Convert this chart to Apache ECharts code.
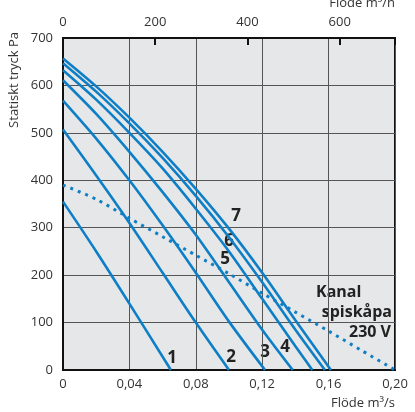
<!DOCTYPE html>
<html>
<head>
<meta charset="utf-8">
<script src="https://cdn.jsdelivr.net/npm/echarts@6/dist/echarts.min.js"></script>
<style>
  html, body { margin: 0; padding: 0; background: #ffffff; }
  #chart { width: 415px; height: 412px; }
</style>
</head>
<body>
<div id="chart"></div>
<script>
// Fan curves, speed steps 1–7: [flow m³/s, static pressure Pa]
const curve1 = [[0, 355], [0.02, 250], [0.04, 140], [0.065, 0]];
const curve2 = [[0, 507], [0.02, 410], [0.04, 310], [0.06, 205], [0.08, 100], [0.1, 0]];
const curve3 = [[0, 568], [0.02, 488], [0.04, 400], [0.06, 305], [0.08, 205], [0.1, 102], [0.1217, 0]];
const curve4 = [[0, 611], [0.02, 540], [0.04, 460], [0.06, 375], [0.08, 285], [0.1, 185], [0.12, 85], [0.1384, 0]];
const curve5 = [[0, 632], [0.02, 570], [0.04, 500], [0.06, 425], [0.08, 340], [0.1, 250], [0.12, 150], [0.14, 50], [0.1502, 0]];
const curve6 = [[0, 647], [0.02, 587], [0.04, 520], [0.06, 447], [0.08, 367], [0.1, 280], [0.12, 185], [0.14, 85], [0.1578, 0]];
const curve7 = [[0, 657], [0.02, 598], [0.04, 532], [0.06, 460], [0.08, 382], [0.1, 298], [0.12, 205], [0.14, 105], [0.1614, 0]];
// Duct / kitchen hood system curve (dotted)
const systemCurve = [[0, 390], [0.02, 360], [0.04, 320], [0.06, 281], [0.08, 242], [0.1, 203], [0.12, 162], [0.14, 122], [0.16, 82], [0.18, 41], [0.2, 0]];

// Axis tick values
const flowTicksM3s = [0, 0.04, 0.08, 0.12, 0.16, 0.20];
const flowTicksM3h = [0, 200, 400, 600];
const pressureTicks = [0, 100, 200, 300, 400, 500, 600, 700];

const curves = [curve1, curve2, curve3, curve4, curve5, curve6, curve7];
const curveNames = ['1', '2', '3', '4', '5', '6', '7'];

const BLUE = '#0e7fc6';
const TEXT = '#333333';
const FONT = 'Open Sans';

const chart = echarts.init(document.getElementById('chart'), null, { renderer: 'canvas' });

const fanSeries = curves.map((data, i) => ({
  name: curveNames[i],
  type: 'line',
  xAxisIndex: 0,
  yAxisIndex: 0,
  data: data,
  smooth: 0.3,
  showSymbol: false,
  lineStyle: { color: BLUE, width: 2.6 },
  z: 3
}));

const option = {
  animation: false,
  backgroundColor: '#ffffff',
  grid: {
    left: 63, right: 20, top: 38, bottom: 42,
    show: true,
    backgroundColor: '#e6e7e8',
    borderColor: '#111111',
    borderWidth: 2
  },
  xAxis: [
    {
      type: 'value',
      position: 'bottom',
      min: flowTicksM3s[0],
      max: flowTicksM3s[flowTicksM3s.length - 1],
      interval: 0.04,
      axisLine: { show: true, lineStyle: { color: '#111111', width: 2 } },
      axisTick: { show: false },
      splitLine: { show: true, lineStyle: { color: '#555555', width: 1 } },
      axisLabel: {
        color: TEXT, fontFamily: FONT, fontSize: 13, margin: 8,
        formatter: v => (v === 0 ? '0' : v.toFixed(2).replace('.', ','))
      }
    },
    {
      type: 'value',
      position: 'top',
      min: 0,
      max: 720,
      interval: 200,
      axisLine: { show: true, lineStyle: { color: '#111111', width: 2 } },
      axisTick: { show: true, inside: true, length: 7, lineStyle: { color: '#111111', width: 2 } },
      splitLine: { show: false },
      axisLabel: {
        color: TEXT, fontFamily: FONT, fontSize: 13, margin: 9,
        formatter: v => (flowTicksM3h.indexOf(v) >= 0 ? String(v) : '')
      }
    }
  ],
  yAxis: [
    {
      type: 'value',
      min: pressureTicks[0],
      max: pressureTicks[pressureTicks.length - 1],
      interval: 100,
      axisLine: { show: true, lineStyle: { color: '#111111', width: 2 } },
      axisTick: { show: false },
      splitLine: { show: true, lineStyle: { color: '#555555', width: 1 } },
      axisLabel: { color: TEXT, fontFamily: FONT, fontSize: 13, margin: 10 }
    }
  ],
  series: fanSeries.concat([
    {
      name: 'Kanal spiskåpa 230 V',
      type: 'line',
      xAxisIndex: 0,
      yAxisIndex: 0,
      data: systemCurve,
      smooth: 0.3,
      showSymbol: false,
      lineStyle: { color: BLUE, width: 3, type: [3, 5], cap: 'butt' },
      z: 2
    }
  ]),
  graphic: [
    {
      type: 'text', x: 14, y: 32, rotation: Math.PI / 2,
      style: { text: 'Statiskt tryck Pa', fill: TEXT, font: '13px "Open Sans"', align: 'right', verticalAlign: 'middle' }
    },
    {
      type: 'text', x: 395, y: 403,
      style: { text: 'Flöde m³/s', fill: TEXT, font: '13px "Open Sans"', align: 'right', verticalAlign: 'middle' }
    },
    {
      type: 'text', x: 395, y: 3,
      style: { text: 'Flöde m³/h', fill: TEXT, font: '13px "Open Sans"', align: 'right', verticalAlign: 'middle' }
    },
    // Speed step numbers
    { type: 'text', x: 172, y: 358, style: { text: '1', fill: '#222', font: 'bold 17px "Open Sans"', align: 'center', verticalAlign: 'middle' } },
    { type: 'text', x: 231, y: 357, style: { text: '2', fill: '#222', font: 'bold 17px "Open Sans"', align: 'center', verticalAlign: 'middle' } },
    { type: 'text', x: 265, y: 352, style: { text: '3', fill: '#222', font: 'bold 17px "Open Sans"', align: 'center', verticalAlign: 'middle' } },
    { type: 'text', x: 285, y: 347, style: { text: '4', fill: '#222', font: 'bold 17px "Open Sans"', align: 'center', verticalAlign: 'middle' } },
    { type: 'text', x: 225, y: 259, style: { text: '5', fill: '#222', font: 'bold 17px "Open Sans"', align: 'center', verticalAlign: 'middle' } },
    { type: 'text', x: 229, y: 241, style: { text: '6', fill: '#222', font: 'bold 17px "Open Sans"', align: 'center', verticalAlign: 'middle' } },
    { type: 'text', x: 236, y: 216, style: { text: '7', fill: '#222', font: 'bold 17px "Open Sans"', align: 'center', verticalAlign: 'middle' } },
    // System curve caption
    { type: 'text', x: 316, y: 292, style: { text: 'Kanal', fill: '#222', font: 'bold 16px "Open Sans"', align: 'left', verticalAlign: 'middle' } },
    { type: 'text', x: 392, y: 312, style: { text: 'spiskåpa', fill: '#222', font: 'bold 16px "Open Sans"', align: 'right', verticalAlign: 'middle' } },
    { type: 'text', x: 391, y: 332, style: { text: '230 V', fill: '#222', font: 'bold 16px "Open Sans"', align: 'right', verticalAlign: 'middle' } }
  ]
};

chart.setOption(option);
</script>
</body>
</html>
